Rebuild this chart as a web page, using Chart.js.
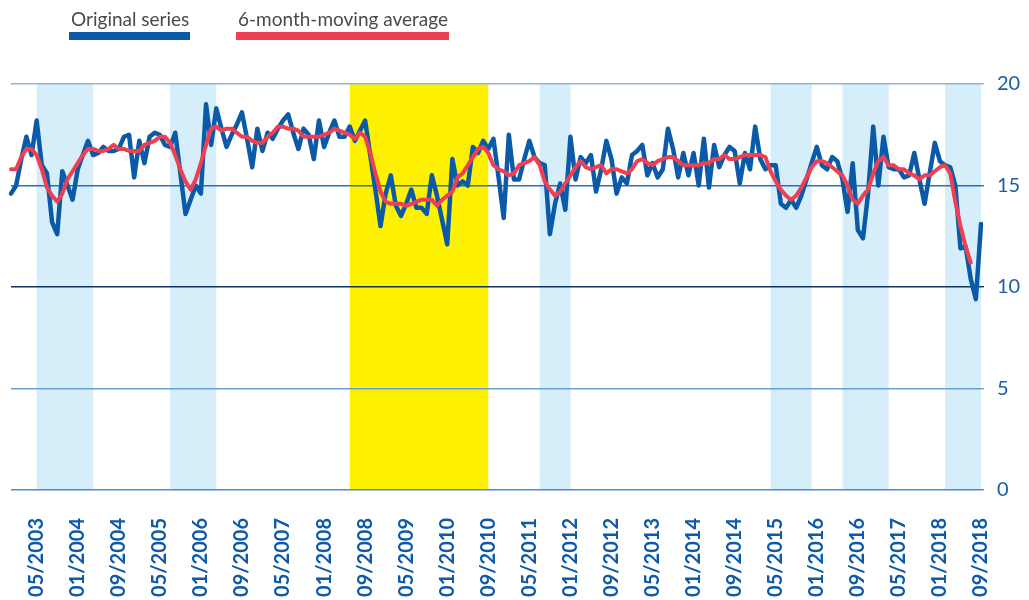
<!DOCTYPE html>
<html>
<head>
<meta charset="utf-8">
<title>Original series and 6-month-moving average</title>
<script src="https://cdn.jsdelivr.net/npm/chart.js@4.4.0/dist/chart.umd.min.js"></script>
<style>
  body { margin: 0; background: #fff; }
  #wrap { position: relative; width: 1029px; height: 600px; }
  #legend { position: absolute; top: 7px; left: 0; font-family: Lato, sans-serif; font-size: 19px; color: #4a4a4a; }
  #legend .item { position: absolute; top: 0; white-space: nowrap; }
  #legend .item span { display: block; line-height: 23px; padding: 0 1px 0 2px; }
  #legend .item i { display: block; height: 8px; margin-top: 2px; }
</style>
</head>
<body>
<div id="wrap">
  <canvas id="chart" width="1029" height="600"></canvas>
  <div id="legend"></div>
</div>
<script>
// monthly series, 12/2002 .. 09/2018
var startYear = 2002;
var startMonth = 12;
var monthCount = 190;

var tickLabels = ['05/2003', '01/2004', '09/2004', '05/2005', '01/2006', '09/2006', '05/2007', '01/2008',
  '09/2008', '05/2009', '01/2010', '09/2010', '05/2011', '01/2012', '09/2012', '05/2013', '01/2014',
  '09/2014', '05/2015', '01/2016', '09/2016', '05/2017', '01/2018', '09/2018'];

var originalSeries = [
  14.6, 15.0, 16.3, 17.4, 16.5, 18.2, 16.0, 15.6, 13.2, 12.6,
  15.7, 15.0, 14.3, 15.8, 16.5, 17.2, 16.5, 16.6, 16.9, 16.7,
  16.7, 16.8, 17.4, 17.5, 15.4, 17.2, 16.1, 17.4, 17.6, 17.5,
  17.0, 16.9, 17.6, 15.6, 13.6, 14.3, 15.0, 14.6, 19.0, 17.0,
  18.8, 17.8, 16.9, 17.5, 18.0, 18.6, 17.3, 15.9, 17.8, 16.7,
  17.6, 17.3, 17.8, 18.2, 18.5, 17.6, 16.8, 17.8, 17.5, 16.3,
  18.2, 16.9, 17.6, 18.2, 17.4, 17.4, 17.9, 17.2, 17.7, 18.2,
  16.5, 14.8, 13.0, 14.6, 15.5, 14.0, 13.5, 14.1, 14.8, 13.9,
  13.9, 13.6, 15.5, 14.5, 13.3, 12.1, 16.3, 15.0, 15.2, 15.0,
  16.9, 16.6, 17.2, 16.8, 17.3, 15.4, 13.4, 17.5, 15.3, 15.3,
  16.3, 17.2, 16.4, 16.1, 16.0, 12.6, 14.1, 15.1, 13.8, 17.4,
  15.3, 16.4, 16.1, 16.5, 14.7, 15.8, 17.2, 16.3, 14.6, 15.4,
  15.1, 16.5, 16.7, 17.0, 15.5, 16.1, 15.4, 15.8, 17.8, 16.8,
  15.4, 16.6, 15.5, 16.6, 15.0, 17.3, 14.9, 17.0, 15.9, 16.5,
  16.9, 16.7, 15.1, 16.6, 15.8, 17.9, 16.3, 15.8, 16.0, 16.0,
  14.1, 13.9, 14.3, 13.9, 14.5, 15.3, 16.1, 16.9, 16.0, 15.8,
  16.4, 16.2, 15.3, 13.7, 16.1, 12.8, 12.4, 14.6, 17.9, 15.0,
  17.4, 15.9, 15.8, 15.8, 15.4, 15.5, 16.6, 15.3, 14.1, 15.6,
  17.1, 16.2, 16.0, 15.9, 15.0, 11.9, 12.0, 10.4, 9.4, 13.1
];

var movingAverage = [
  15.8, 15.8, 16.4, 16.8, 16.8, 16.5, 15.8, 14.9, 14.5, 14.2,
  14.6, 15.3, 15.7, 16.1, 16.5, 16.8, 16.8, 16.7, 16.7, 16.8,
  17.0, 16.8, 16.8, 16.7, 16.7, 16.7, 17.0, 17.1, 17.2, 17.4,
  17.4, 17.1, 16.5, 15.8, 15.2, 14.8, 15.3, 16.1, 17.0, 17.8,
  17.9, 17.7, 17.8, 17.8, 17.6, 17.4, 17.4, 17.2, 17.1, 17.1,
  17.4, 17.6, 17.9, 17.9, 17.8, 17.8, 17.7, 17.4, 17.4, 17.4,
  17.4, 17.5, 17.6, 17.8, 17.7, 17.6, 17.5, 17.3, 17.6, 17.4,
  16.6, 15.6, 14.7, 14.2, 14.1, 14.1, 14.1, 14.0, 14.1, 14.2,
  14.3, 14.3, 14.3, 14.0, 14.3, 14.5, 14.7, 15.4, 15.6, 16.0,
  16.4, 16.8, 16.9, 16.6, 16.0, 15.8, 15.7, 15.5, 15.6, 16.0,
  16.1, 16.2, 16.4, 16.0, 15.2, 14.8, 14.5, 14.7, 15.1, 15.5,
  15.9, 16.2, 15.9, 15.8, 15.9, 16.0, 15.6, 15.8, 15.8, 15.7,
  15.6, 15.8, 16.2, 16.3, 16.1, 16.0, 16.2, 16.3, 16.4, 16.4,
  16.2, 16.0, 16.0, 16.0, 16.0, 16.1, 16.1, 16.3, 16.3, 16.5,
  16.3, 16.3, 16.4, 16.5, 16.5, 16.5, 16.5, 16.4, 15.7, 15.2,
  14.8, 14.5, 14.3, 14.5, 14.9, 15.4, 15.9, 16.2, 16.2, 16.1,
  15.9, 15.7, 15.5, 15.0, 14.3, 14.1, 14.5, 14.8, 15.6, 16.2,
  16.4, 16.0, 16.0, 15.8, 15.8, 15.6, 15.5, 15.3, 15.5, 15.5,
  15.7, 15.9, 16.0, 15.6, 14.2, 13.0, 12.0, 11.2, null, null
];

// shaded periods
var bandStarts = ['05/2003', '07/2005', '06/2008', '07/2011', '04/2015', '06/2016', '02/2018'];
var bandEnds   = ['04/2004', '04/2006', '09/2010', '01/2012', '12/2015', '03/2017', '09/2018'];
var bandKinds  = ['slow', 'slow', 'crisis', 'slow', 'slow', 'slow', 'slow'];

var yTicks = [0, 5, 10, 15, 20];
var gridColors = ['#4f8bcb', '#6b9fd4', '#14345c', '#2f6fb6', '#8db4de'];

var months = [];
for (var k = 0; k < monthCount; k++) {
  var m = (startMonth - 1 + k) % 12 + 1;
  var yr = startYear + Math.floor((startMonth - 1 + k) / 12);
  months.push((m < 10 ? '0' : '') + m + '/' + yr);
}

var bandPlugin = {
  id: 'bands',
  beforeDraw: function(chart) {
    var ctx = chart.ctx;
    var xs = chart.scales.x;
    var area = chart.chartArea;
    ctx.save();
    bandStarts.forEach(function(start, i) {
      var x0 = xs.getPixelForValue(months.indexOf(start));
      var x1 = xs.getPixelForValue(months.indexOf(bandEnds[i]));
      ctx.fillStyle = bandKinds[i] === 'crisis' ? '#fff200' : '#d5eefa';
      ctx.fillRect(x0, area.top, x1 - x0, area.bottom - area.top);
    });
    ctx.restore();
  }
};

var ctx = document.getElementById('chart');
var chart = new Chart(ctx, {
  type: 'line',
  data: {
    labels: months,
    datasets: [{
      label: 'Original series',
      data: originalSeries,
      borderColor: '#0a5aa8',
      borderWidth: 4.5,
      order: 2
    }, {
      label: '6-month-moving average',
      data: movingAverage,
      borderColor: '#ee4052',
      borderWidth: 4,
      order: 1
    }]
  },
  options: {
    responsive: false,
    animation: false,
    layout: { padding: { top: 84, left: 11, right: 0, bottom: 0 } },
    elements: {
      point: { radius: 0 },
      line: { tension: 0, borderJoinStyle: 'round', borderCapStyle: 'round' }
    },
    plugins: {
      legend: { display: false },
      tooltip: { enabled: false }
    },
    scales: {
      x: {
        offset: false,
        grid: { display: false },
        border: { display: false },
        ticks: {
          autoSkip: false,
          minRotation: 90,
          maxRotation: 90,
          padding: 20,
          color: '#0e5aa7',
          font: { family: 'Lato', size: 20, weight: 'bold' },
          callback: function(value) {
            var lab = this.getLabelForValue(value);
            return tickLabels.indexOf(lab) >= 0 ? lab : '';
          }
        },
        afterFit: function(scale) {
          scale.height = 110;
          scale.paddingLeft = 0;
          scale.paddingRight = 0;
        }
      },
      y: {
        position: 'right',
        min: 0,
        max: 20,
        afterBuildTicks: function(scale) {
          scale.ticks = yTicks.map(function(v) { return { value: v }; });
        },
        grid: {
          color: function(c) { return gridColors[c.index]; },
          lineWidth: 1.4,
          drawTicks: true,
          tickLength: 3
        },
        border: { display: false },
        ticks: {
          padding: 13,
          color: '#1a5ea8',
          font: { family: 'Lato', size: 20 }
        },
        afterFit: function(scale) {
          scale.width = 48;
          scale.paddingTop = 0;
          scale.paddingBottom = 0;
        }
      }
    }
  },
  plugins: [bandPlugin]
});

// legend: label above a thick colour bar
var legendLeft = [69, 236];
var legend = document.getElementById('legend');
chart.data.datasets.forEach(function(ds, i) {
  var item = document.createElement('div');
  item.className = 'item';
  item.style.left = legendLeft[i] + 'px';
  var text = document.createElement('span');
  text.textContent = ds.label;
  var bar = document.createElement('i');
  bar.style.background = ds.borderColor;
  item.appendChild(text);
  item.appendChild(bar);
  legend.appendChild(item);
});
</script>
</body>
</html>
